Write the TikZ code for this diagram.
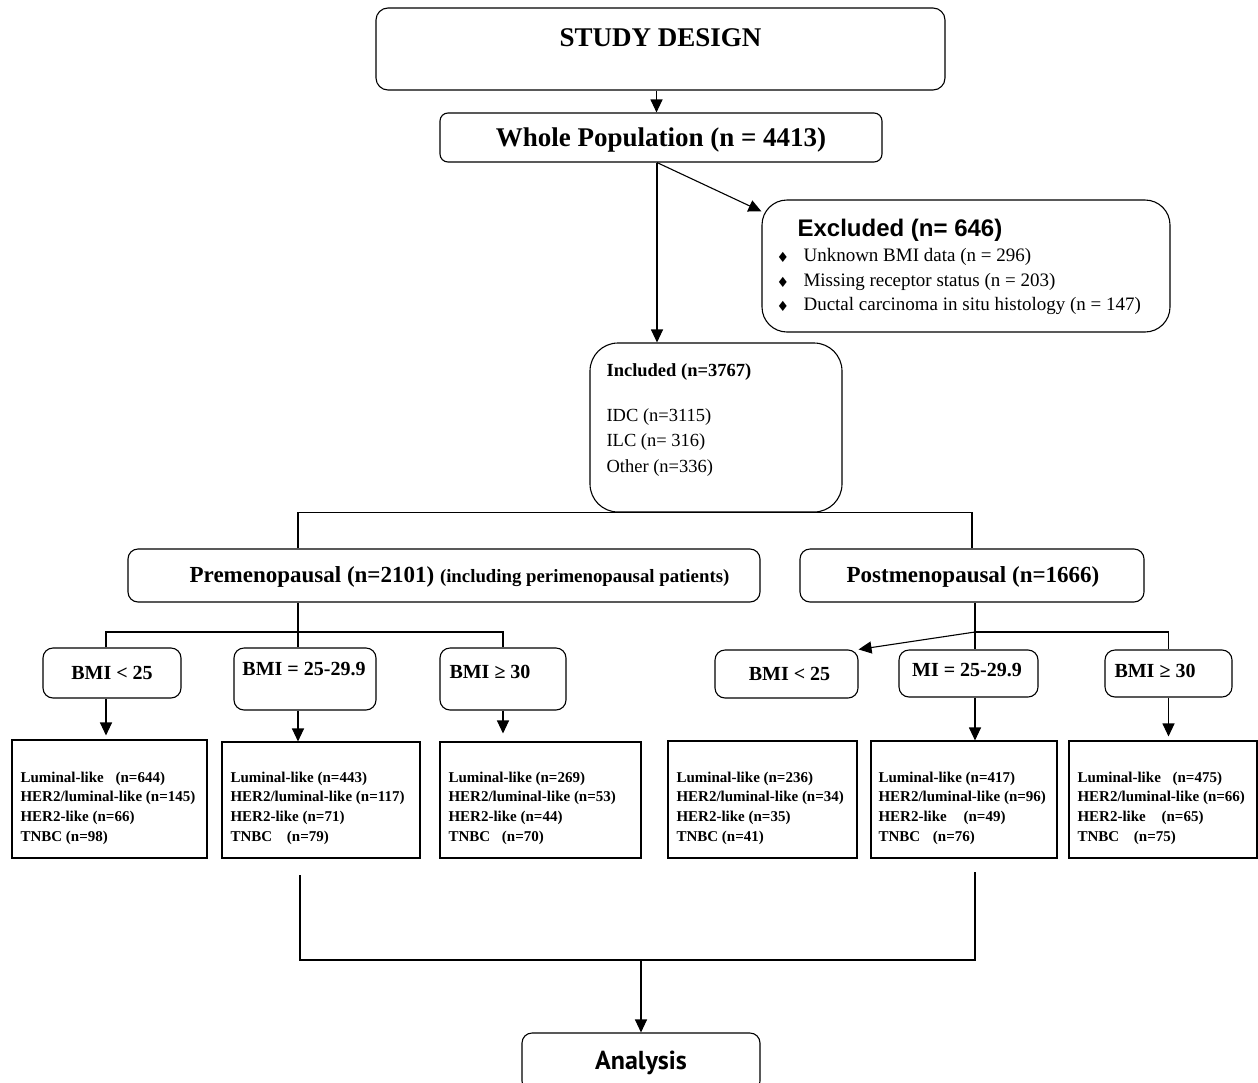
\documentclass[tikz,border=0pt]{standalone}
\usepackage{fontspec}
\setmainfont{Liberation Serif}
\newfontfamily\arialfont{Liberation Sans}
\newfontfamily\ptsansfont{PT Sans}
\newfontfamily\dejavufont{DejaVu Sans}
\usetikzlibrary{arrows.meta}
\newcommand{\fsz}[2]{\fontsize{#1}{#2}\selectfont}
\begin{document}
\begin{tikzpicture}[x=1pt,y=-1pt,line width=1.1pt,
  rbox/.style={draw,rounded corners=10pt,inner sep=0pt},
  sbox/.style={draw,inner sep=0pt},
  arr/.style={-{Triangle[length=13pt,width=12pt]}},
  txt/.style={inner sep=0pt},
  ltxt/.style={inner sep=0pt,anchor=west,align=left},
  bmitxt/.style={inner sep=0pt,font=\fsz{20}{24}\bfseries},
  leaftxt/.style={inner sep=0pt,anchor=west,align=left,font=\fsz{15}{19.7}\bfseries}]
\useasboundingbox (0,0) rectangle (1258,1082);
% top
\node[rbox,rounded corners=12pt,minimum width=569pt,minimum height=82pt] (study) at (660.5,49) {};
\node[txt,font=\fsz{27}{32}\bfseries] (studyt) at (660.5,38) {STUDY DESIGN};
\node[rbox,rounded corners=8pt,minimum width=442pt,minimum height=49pt] (whole) at (661,137.5) {};
\node[txt,font=\fsz{27}{32}\bfseries] (wholet) at (661,140.5) {Whole Population (n = 4413)};
% excluded
\node[rbox,rounded corners=25pt,minimum width=408pt,minimum height=132pt] (exc) at (966,266) {};
\node[ltxt,font=\arialfont\fsz{24}{28}\bfseries] (exct) at (797,230) {Excluded (n= 646)};
\node[txt,font=\dejavufont\fsz{14}{16}] (d1) at (783,257) {♦};
\node[txt,font=\dejavufont\fsz{14}{16}] (d2) at (783,282) {♦};
\node[txt,font=\dejavufont\fsz{14}{16}] (d3) at (783,306) {♦};
\node[ltxt,font=\fsz{19}{23}] (e1) at (803,257) {Unknown BMI data (n = 296)};
\node[ltxt,font=\fsz{19}{23}] (e2) at (803,282) {Missing receptor status (n = 203)};
\node[ltxt,font=\fsz{19}{23}] (e3) at (803,306) {Ductal carcinoma in situ histology (n = 147)};
% included
\node[rbox,rounded corners=28pt,minimum width=252pt,minimum height=169pt] (incl) at (716,427.5) {};
\node[ltxt,font=\fsz{18.5}{22}\bfseries] (i0) at (606,372.5) {Included (n=3767)};
\node[ltxt,font=\fsz{18.5}{22}] (i1) at (606,417.5) {IDC (n=3115)};
\node[ltxt,font=\fsz{18.5}{22}] (i2) at (606,442.5) {ILC (n= 316)};
\node[ltxt,font=\fsz{18.5}{22}] (i3) at (606,468.5) {Other (n=336)};
% menopausal
\node[rbox,minimum width=632pt,minimum height=53pt] (pre) at (444,575.5) {};
\node[txt,font=\fsz{23}{27}\bfseries] (pret) at (459.5,577) {Premenopausal (n=2101) {\fsz{18.8}{22}(including perimenopausal patients)}};
\node[rbox,minimum width=344pt,minimum height=53pt] (post) at (972,575.5) {};
\node[txt,font=\fsz{23}{27}\bfseries] (postt) at (973,576.5) {Postmenopausal (n=1666)};
% BMI boxes
\node[rbox,minimum width=138pt,minimum height=50pt] (b1) at (112,673) {};
\node[bmitxt] (b1t) at (112,672.5) {BMI < 25};
\node[rbox,minimum width=142pt,minimum height=62pt] (b2) at (305,679) {};
\node[bmitxt] (b2t) at (304,669.5) {BMI = 25-29.9};
\node[rbox,minimum width=126pt,minimum height=62pt] (b3) at (503,679) {};
\node[bmitxt] (b3t) at (490,671.5) {BMI ≥ 30};
\node[rbox,minimum width=143pt,minimum height=48pt] (r1) at (786.5,674) {};
\node[bmitxt] (r1t) at (789.5,673.5) {BMI < 25};
\node[rbox,minimum width=139pt,minimum height=47pt] (r2) at (968.5,673.5) {};
\node[bmitxt] (r2t) at (967,670.5) {MI = 25-29.9};
\node[rbox,minimum width=127pt,minimum height=47pt] (r3) at (1168.5,673.5) {};
\node[bmitxt] (r3t) at (1155,670.5) {BMI ≥ 30};
% leaf boxes
\node[sbox,minimum width=195pt,minimum height=118pt] (L1) at (109.5,799) {};
\node[sbox,minimum width=198pt,minimum height=116pt] (L2) at (321,800) {};
\node[sbox,minimum width=201pt,minimum height=116pt] (L3) at (540.5,800) {};
\node[sbox,minimum width=189pt,minimum height=117pt] (L4) at (762.5,799.5) {};
\node[sbox,minimum width=186pt,minimum height=117pt] (L5) at (964,799.5) {};
\node[sbox,minimum width=188pt,minimum height=117pt] (L6) at (1163,799.5) {};
\node[leaftxt] (L1t) at (20,808) {Luminal-like\hspace{8pt} (n=644)\\HER2/luminal-like (n=145)\\HER2-like (n=66)\\TNBC (n=98)};
\node[leaftxt] (L2t) at (230,808) {Luminal-like (n=443)\\HER2/luminal-like (n=117)\\HER2-like (n=71)\\TNBC\hspace{11pt} (n=79)};
\node[leaftxt] (L3t) at (448,808) {Luminal-like (n=269)\\HER2/luminal-like (n=53)\\HER2-like (n=44)\\TNBC\hspace{8pt} (n=70)};
\node[leaftxt] (L4t) at (676,808) {Luminal-like (n=236)\\HER2/luminal-like (n=34)\\HER2-like (n=35)\\TNBC (n=41)};
\node[leaftxt] (L5t) at (878,808) {Luminal-like (n=417)\\HER2/luminal-like (n=96)\\HER2-like\hspace{13pt} (n=49)\\TNBC\hspace{9pt} (n=76)};
\node[leaftxt] (L6t) at (1077,808) {Luminal-like\hspace{8pt} (n=475)\\HER2/luminal-like (n=66)\\HER2-like\hspace{12pt} (n=65)\\TNBC\hspace{11pt} (n=75)};
% analysis
\node[rbox,minimum width=238pt,minimum height=58pt] (ana) at (641,1062) {};
\node[txt,font=\ptsansfont\fsz{26}{30}\bfseries] (anat) at (641,1063) {Analysis};
% coordinates
\coordinate (preX) at (298,600);
\coordinate (pj) at (298,632);
\coordinate (qj) at (975,632);
\coordinate (mL) at (300,875);
\coordinate (mR) at (975,872);
\coordinate (mJ) at (641,960);
% connectors
\draw[arr] ([xshift=-4pt]study.south) -- ([xshift=-4pt]study.south |- whole.north);
\draw[arr] ([xshift=-4pt]whole.south) -- ([xshift=-4pt]whole.south |- incl.north);
\draw[arr] ([xshift=-4pt]whole.south) -- ([yshift=-12pt]exc.north west);
\draw (pre.north -| preX) |- (incl.south) -| (post.north);
\draw (pre.south -| pj) -- (pj);
\draw ([xshift=-6pt]b1.north) |- (pj -| b3.north) -- (b3.north);
\draw (pj) -- (pj |- b2.north);
\draw[arr] ([xshift=-6pt]b1.south) -- ([xshift=-6pt,yshift=4pt]b1.south |- L1.north);
\draw[arr] (b2.south -| pj) -- (pj |- L2.north);
\draw[arr] (b3.south) -- ([yshift=8pt]b3.south |- L3.north);
\draw (post.south -| qj) -- (qj) -| (r3.north);
\draw (qj) -- (qj |- r2.north);
\draw[arr] (qj) -- (r1.north east);
\draw[arr] (r2.south -| qj) -- (qj |- L5.north);
\draw[arr] (r3.south) -- ([yshift=4pt]r3.south |- L6.north);
\draw (mL) |- (mJ) -| (mR);
\draw[arr] (mJ) -- (ana.north);
\end{tikzpicture}
\end{document}
